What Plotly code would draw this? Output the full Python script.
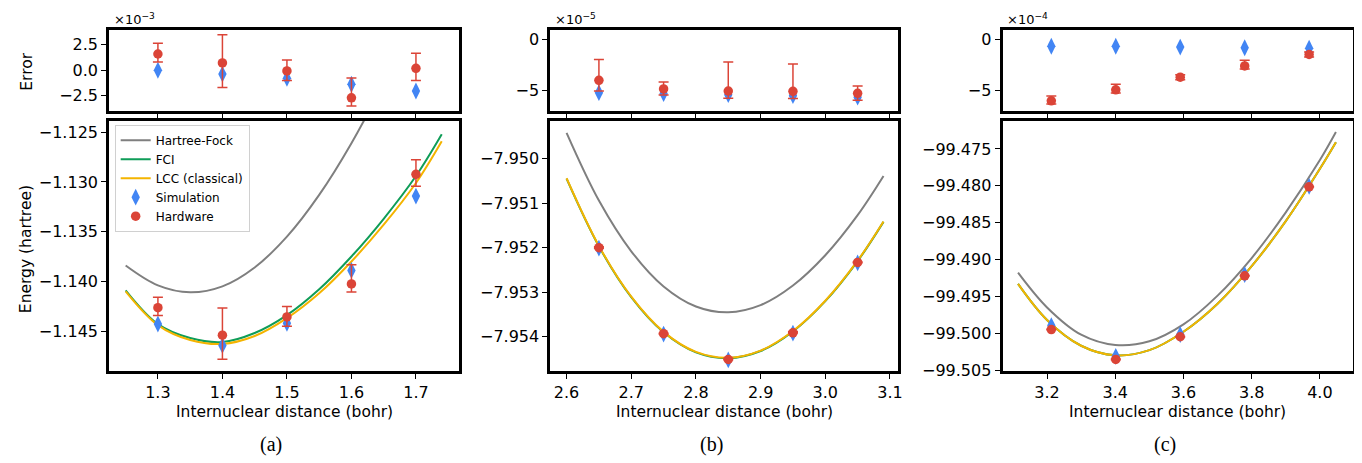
import plotly.graph_objects as go

W, H = 1362, 463

# ---------------- data: panel (a) ----------------
r_pts_a = [1.3, 1.4, 1.5, 1.6, 1.7]
err_sim_a = [0.0e-3, -0.37e-3, -0.78e-3, -1.37e-3, -2.03e-3]
err_hw_a = [1.59e-3, 0.72e-3, -0.06e-3, -2.69e-3, 0.19e-3]
err_hw_plus_a = [1.04e-3, 2.75e-3, 1.06e-3, 1.94e-3, 1.47e-3]
err_hw_minus_a = [0.78e-3, 2.41e-3, 0.94e-3, 0.81e-3, 1.19e-3]
e_sim_a = [-1.14429, -1.14645, -1.14422, -1.13890, -1.13142]
e_hw_a = [-1.14265, -1.14542, -1.14358, -1.14026, -1.12923]
r_curve_a = [1.25, 1.30, 1.35, 1.40, 1.45, 1.50, 1.55, 1.60, 1.65, 1.70, 1.74]
hf_a = [-1.1384, -1.1404, -1.1411, -1.1405, -1.1386, -1.1355, -1.1313, -1.1261, -1.1200, -1.1132, -1.1072]
fci_a = [-1.1409, -1.1443, -1.1457, -1.1461, -1.1452, -1.1434, -1.1408, -1.1375, -1.1337, -1.1294, -1.1252]
lcc_a = [-1.1410, -1.1444, -1.1459, -1.1463, -1.1455, -1.1437, -1.1412, -1.1380, -1.1343, -1.1301, -1.1259]

# ---------------- data: panel (b) ----------------
r_pts_b = [2.65, 2.75, 2.85, 2.95, 3.05]
err_sim_b = [-5.25e-5, -5.35e-5, -5.45e-5, -5.55e-5, -5.70e-5]
err_hw_b = [-4.03e-5, -4.88e-5, -5.09e-5, -5.12e-5, -5.31e-5]
err_hw_plus_b = [2.06e-5, 0.69e-5, 2.87e-5, 2.72e-5, 0.72e-5]
err_hw_minus_b = [1.06e-5, 0.60e-5, 0.70e-5, 0.70e-5, 0.70e-5]
e_sim_b = [-7.95201, -7.95394, -7.95452, -7.95392, -7.95234]
e_hw_b = [-7.95200, -7.95393, -7.95451, -7.95391, -7.95233]
r_curve_b = [2.60, 2.65, 2.70, 2.75, 2.80, 2.85, 2.90, 2.95, 3.00, 3.05, 3.09]
hf_b = [-7.94942, -7.95094, -7.95208, -7.95287, -7.95332, -7.95345, -7.95329, -7.95285, -7.95217, -7.95127, -7.95039]
fci_b = [-7.95045, -7.95197, -7.95311, -7.95390, -7.95435, -7.95448, -7.95432, -7.95388, -7.95320, -7.95230, -7.95142]
lcc_b = [-7.95044, -7.95196, -7.95310, -7.95389, -7.95434, -7.95447, -7.95431, -7.95387, -7.95319, -7.95229, -7.95141]

# ---------------- data: panel (c) ----------------
r_pts_c = [3.2125, 3.4015, 3.5905, 3.7795, 3.9684]
err_sim_c = [-0.65e-4, -0.65e-4, -0.73e-4, -0.80e-4, -0.85e-4]
err_hw_c = [-6.06e-4, -4.97e-4, -3.72e-4, -2.60e-4, -1.47e-4]
err_hw_plus_c = [0.47e-4, 0.56e-4, 0.25e-4, 0.56e-4, 0.25e-4]
err_hw_minus_c = [0.30e-4, 0.30e-4, 0.25e-4, 0.30e-4, 0.25e-4]
e_sim_c = [-99.49896, -99.50313, -99.50018, -99.49204, -99.48008]
e_hw_c = [-99.49950, -99.50356, -99.50048, -99.49222, -99.48014]
r_curve_c = [3.115, 3.20, 3.30, 3.40, 3.50, 3.60, 3.70, 3.80, 3.90, 4.00, 4.047]
hf_c = [-99.49178, -99.49650, -99.50020, -99.50160, -99.50110, -99.49880, -99.49490, -99.48980, -99.48360, -99.47650, -99.47270]
fci_c = [-99.49330, -99.49820, -99.50170, -99.50300, -99.50230, -99.49980, -99.49600, -99.49090, -99.48480, -99.47770, -99.47410]
lcc_c = [-99.49330, -99.49820, -99.50170, -99.50300, -99.50230, -99.49980, -99.49600, -99.49090, -99.48480, -99.47770, -99.47410]

x_ticks_a = [1.3, 1.4, 1.5, 1.6, 1.7]
x_ticks_b = [2.6, 2.7, 2.8, 2.9, 3.0, 3.1]
x_ticks_c = [3.2, 3.4, 3.6, 3.8, 4.0]
y_ticks_a = [-1.125, -1.130, -1.135, -1.140, -1.145]
y_ticks_b = [-7.950, -7.951, -7.952, -7.953, -7.954]
y_ticks_c = [-99.475, -99.480, -99.485, -99.490, -99.495, -99.500, -99.505]
err_ticks_a = [2.5, 0.0, -2.5]
err_ticks_bc = [0, -5]
scales = [1e-3, 1e-5, 1e-4]
scale_labels = ["×10<sup>−3</sup>", "×10<sup>−5</sup>", "×10<sup>−4</sup>"]

GRAY, GREEN, YELLOW, BLUE, RED = "#7f7f7f", "#0f9d58", "#f4b400", "#4285f4", "#db4437"
FONT = "DejaVu Sans"

# layout geometry (pixels, box line centres)
cols_px = [(100, 454), (542.5, 894.5), (996, 1350)]
top_px = (20.5, 106.5)
bot_px = (113.5, 371.5)
LW = 3


def xdom(a, b):
    return [(a + LW / 2) / W, (b - LW / 2) / W]


def ydom(t, b):
    return [(H - b + LW / 2) / H, (H - t - LW / 2) / H]


panels = [
    dict(rp=r_pts_a, es=err_sim_a, eh=err_hw_a, ehp=err_hw_plus_a, ehm=err_hw_minus_a,
         Es=e_sim_a, Eh=e_hw_a, rc=r_curve_a, hf=hf_a, fci=fci_a, lcc=lcc_a,
         xr=[1.2245, 1.767], yr_top=[-3.98, 3.98], yr_bot=[-1.1490, -1.12384],
         xt=x_ticks_a, yt=y_ticks_a, et=err_ticks_a, efmt=".1f"),
    dict(rp=r_pts_b, es=err_sim_b, eh=err_hw_b, ehp=err_hw_plus_b, ehm=err_hw_minus_b,
         Es=e_sim_b, Eh=e_hw_b, rc=r_curve_b, hf=hf_b, fci=fci_b, lcc=lcc_b,
         xr=[2.575, 3.113], yr_top=[-7.06, 1.0], yr_bot=[-7.954764, -7.949149],
         xt=x_ticks_b, yt=y_ticks_b, et=err_ticks_bc, efmt="d"),
    dict(rp=r_pts_c, es=err_sim_c, eh=err_hw_c, ehp=err_hw_plus_c, ehm=err_hw_minus_c,
         Es=e_sim_c, Eh=e_hw_c, rc=r_curve_c, hf=hf_c, fci=fci_c, lcc=lcc_c,
         xr=[3.0696, 4.0957], yr_top=[-7.06, 1.0], yr_bot=[-99.5051, -99.47118],
         xt=x_ticks_c, yt=y_ticks_c, et=err_ticks_bc, efmt="d"),
]

fig = go.Figure()
layout = {}
common = dict(showline=True, linecolor="black", linewidth=LW, mirror=True,
              ticks="outside", ticklen=5, tickwidth=1.2, tickcolor="black",
              showgrid=False, zeroline=False,
              tickfont=dict(family=FONT, size=16, color="black"))

annotations = []
for i, p in enumerate(panels):
    it, ib = 2 * i + 1, 2 * i + 2
    sx = lambda n: "x" if n == 1 else f"x{n}"
    sy = lambda n: "y" if n == 1 else f"y{n}"
    kx = lambda n: "xaxis" if n == 1 else f"xaxis{n}"
    ky = lambda n: "yaxis" if n == 1 else f"yaxis{n}"
    x0, x1 = cols_px[i]
    sc = scales[i]
    leg = (i == 0)

    # top error panel
    fig.add_trace(go.Scatter(x=p["rp"], y=[v / sc for v in p["es"]], mode="markers",
                             marker=dict(symbol="diamond-tall", size=12, color=BLUE),
                             xaxis=sx(it), yaxis=sy(it), showlegend=False))
    fig.add_trace(go.Scatter(x=p["rp"], y=[v / sc for v in p["eh"]], mode="markers",
                             marker=dict(symbol="circle", size=9.5, color=RED),
                             error_y=dict(type="data", symmetric=False,
                                          array=[v / sc for v in p["ehp"]],
                                          arrayminus=[v / sc for v in p["ehm"]],
                                          color=RED, thickness=1.5, width=5),
                             xaxis=sx(it), yaxis=sy(it), showlegend=False))
    # bottom energy panel
    fig.add_trace(go.Scatter(x=p["rc"], y=p["hf"], mode="lines", name="Hartree-Fock",
                             line=dict(color=GRAY, width=2, shape="spline", smoothing=1.0),
                             xaxis=sx(ib), yaxis=sy(ib), showlegend=leg))
    fig.add_trace(go.Scatter(x=p["rc"], y=p["fci"], mode="lines", name="FCI",
                             line=dict(color=GREEN, width=2, shape="spline", smoothing=1.0),
                             xaxis=sx(ib), yaxis=sy(ib), showlegend=leg))
    fig.add_trace(go.Scatter(x=p["rc"], y=p["lcc"], mode="lines", name="LCC (classical)",
                             line=dict(color=YELLOW, width=2, shape="spline", smoothing=1.0),
                             xaxis=sx(ib), yaxis=sy(ib), showlegend=leg))
    fig.add_trace(go.Scatter(x=p["rp"], y=p["Es"], mode="markers", name="Simulation",
                             marker=dict(symbol="diamond-tall", size=12, color=BLUE),
                             xaxis=sx(ib), yaxis=sy(ib), showlegend=leg))
    fig.add_trace(go.Scatter(x=p["rp"], y=p["Eh"], mode="markers", name="Hardware",
                             marker=dict(symbol="circle", size=9.5, color=RED),
                             error_y=dict(type="data", symmetric=False,
                                          array=p["ehp"], arrayminus=p["ehm"],
                                          color=RED, thickness=1.5, width=5),
                             xaxis=sx(ib), yaxis=sy(ib), showlegend=leg))

    layout[kx(it)] = dict(common, domain=xdom(x0, x1), range=p["xr"], anchor=sy(it),
                          tickvals=p["xt"], showticklabels=False)
    layout[ky(it)] = dict(common, domain=ydom(*top_px), range=p["yr_top"], anchor=sx(it),
                          tickvals=p["et"], tickformat=p["efmt"])
    layout[kx(ib)] = dict(common, domain=xdom(x0, x1), range=p["xr"], anchor=sy(ib),
                          tickvals=p["xt"], tickformat=".1f")
    layout[ky(ib)] = dict(common, domain=ydom(*bot_px), range=p["yr_bot"], anchor=sx(ib),
                          tickvals=p["yt"], tickformat=".3f")

    cx = (x0 + x1) / 2
    annotations.append(dict(text=scale_labels[i], x=(x0 + 4) / W, y=(H - 11) / H,
                            xref="paper", yref="paper", xanchor="left", yanchor="middle",
                            showarrow=False, font=dict(family=FONT, size=13, color="black")))
    annotations.append(dict(text="Internuclear distance (bohr)", x=cx / W, y=(H - 411.5) / H,
                            xref="paper", yref="paper", xanchor="center", yanchor="middle",
                            showarrow=False, font=dict(family=FONT, size=15.5, color="black")))
    annotations.append(dict(text="(" + "abc"[i] + ")", x=(cx - 13) / W, y=(H - 445) / H,
                            xref="paper", yref="paper", xanchor="center", yanchor="middle",
                            showarrow=False, font=dict(family="Liberation Serif", size=20, color="black")))

annotations.append(dict(text="Error", x=19 / W, y=(H - 65) / H, xref="paper", yref="paper",
                        textangle=-90, xanchor="center", yanchor="middle", showarrow=False,
                        font=dict(family=FONT, size=15.5, color="black")))
annotations.append(dict(text="Energy (hartree)", x=18 / W, y=(H - 246) / H, xref="paper", yref="paper",
                        textangle=-90, xanchor="center", yanchor="middle", showarrow=False,
                        font=dict(family=FONT, size=15.5, color="black")))

fig.update_layout(
    width=W, height=H, margin=dict(l=0, r=0, t=0, b=0),
    paper_bgcolor="white", plot_bgcolor="white",
    annotations=annotations,
    legend=dict(x=107 / W, y=(H - 119) / H, xanchor="left", yanchor="top",
                bgcolor="rgba(255,255,255,0.85)", bordercolor="#d0d0d0", borderwidth=1,
                font=dict(family=FONT, size=12, color="black"), tracegroupgap=0),
    **layout,
)

fig.write_html("out.html")
